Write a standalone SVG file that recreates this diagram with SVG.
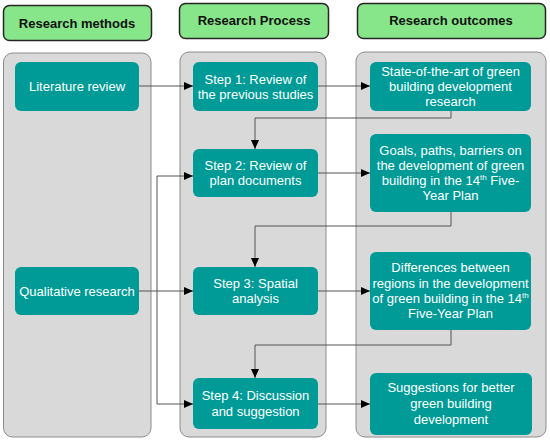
<svg xmlns="http://www.w3.org/2000/svg" width="550" height="440" viewBox="0 0 550 440">
<style>
.panel{fill:#d9d9d9;stroke:#8c8c8c;stroke-width:1}
.head{fill:#88e68a;stroke:#262626;stroke-width:1.5}
.hl{font-family:"Liberation Sans",Arial,sans-serif;font-size:13px;font-weight:bold;fill:#111;text-anchor:middle}
.box{fill:#009a97}
.t{font-family:"Liberation Sans",Arial,sans-serif;font-size:13px;fill:#fff;text-anchor:middle}
.sup{font-size:8px}
.c{fill:none;stroke:#555;stroke-width:1;marker-end:url(#ah)}
</style>
<defs>
<marker id="ah" markerUnits="userSpaceOnUse" markerWidth="10" markerHeight="10" refX="9" refY="5" orient="auto">
<path d="M0,1 L9,5 L0,9 Z" fill="#000"/>
</marker>
</defs>
<rect width="550" height="440" fill="#fff"/>
<g id="panels">
<rect class="panel" x="3.5" y="53" width="147.5" height="384" rx="9"/>
<rect class="panel" x="180" y="52" width="146" height="385" rx="9"/>
<rect class="panel" x="356" y="52" width="190" height="385" rx="9"/>
</g>
<g id="h1"><rect class="head" x="3.5" y="5.5" width="148" height="35" rx="6"/><text class="hl" x="77" y="27.5">Research methods</text></g>
<g id="h2"><rect class="head" x="179.5" y="3.5" width="149" height="35" rx="6"/><text class="hl" x="254" y="25">Research Process</text></g>
<g id="h3"><rect class="head" x="357.5" y="3.5" width="188" height="35" rx="6"/><text class="hl" x="451" y="25">Research outcomes</text></g>
<g id="connectors">
<path class="c" d="M139,86 H193"/>
<path class="c" d="M318,86 H370"/>
<path class="c" d="M451,111 V118 H255 V149"/>
<path class="c" d="M157,404 V176 H193"/>
<path class="c" d="M157,404 H193"/>
<path class="c" d="M318,173 H370"/>
<path class="c" d="M451,212 V226 H255 V267"/>
<path class="c" d="M139,291 H193"/>
<path class="c" d="M318,291 H370"/>
<path class="c" d="M451,330 V345 H255 V378"/>
<path class="c" d="M318,404 H370"/>
</g>
<g id="lit"><rect class="box" x="15" y="62" width="124" height="49" rx="6"/><text class="t" x="77" y="91">Literature review</text></g>
<g id="qual"><rect class="box" x="15" y="267" width="124" height="48" rx="6"/><text class="t" x="77" y="295.5">Qualitative research</text></g>
<g id="s1"><rect class="box" x="193" y="62" width="125" height="49" rx="6"/><text class="t" x="255.5" y="83.5">Step 1: Review of</text><text class="t" x="255.5" y="98.5">the previous studies</text></g>
<g id="s2"><rect class="box" x="193" y="149" width="125" height="48" rx="6"/><text class="t" x="255.5" y="170">Step 2: Review of</text><text class="t" x="255.5" y="185">plan documents</text></g>
<g id="s3"><rect class="box" x="193" y="267" width="125" height="48" rx="6"/><text class="t" x="255.5" y="287.5">Step 3: Spatial</text><text class="t" x="255.5" y="302.5">analysis</text></g>
<g id="s4"><rect class="box" x="193" y="378" width="125" height="51" rx="6"/><text class="t" x="255.5" y="400">Step 4: Discussion</text><text class="t" x="255.5" y="416">and suggestion</text></g>
<g id="o1"><rect class="box" x="370" y="62" width="161" height="49" rx="6"/><text class="t" x="450.5" y="76">State-of-the-art of green</text><text class="t" x="450.5" y="91">building development</text><text class="t" x="450.5" y="106">research</text></g>
<g id="o2"><rect class="box" x="370" y="134" width="161" height="78" rx="6"/><text class="t" x="450.5" y="155">Goals, paths, barriers on</text><text class="t" x="450.5" y="170">the development of green</text><text class="t" x="450.5" y="185">building in the 14<tspan class="sup" dy="-5">th</tspan><tspan dy="5"> Five-</tspan></text><text class="t" x="450.5" y="200">Year Plan</text></g>
<g id="o3"><rect class="box" x="370" y="252" width="161" height="78" rx="6"/><text class="t" x="450.5" y="272">Differences between</text><text class="t" x="450.5" y="287.5">regions in the development</text><text class="t" x="450.5" y="302.5">of green building in the 14<tspan class="sup" dy="-5">th</tspan></text><text class="t" x="450.5" y="318">Five-Year Plan</text></g>
<g id="o4"><rect class="box" x="370" y="373" width="162" height="62" rx="6"/><text class="t" x="451" y="391.5">Suggestions for better</text><text class="t" x="451" y="408">green building</text><text class="t" x="451" y="424">development</text></g>
</svg>
